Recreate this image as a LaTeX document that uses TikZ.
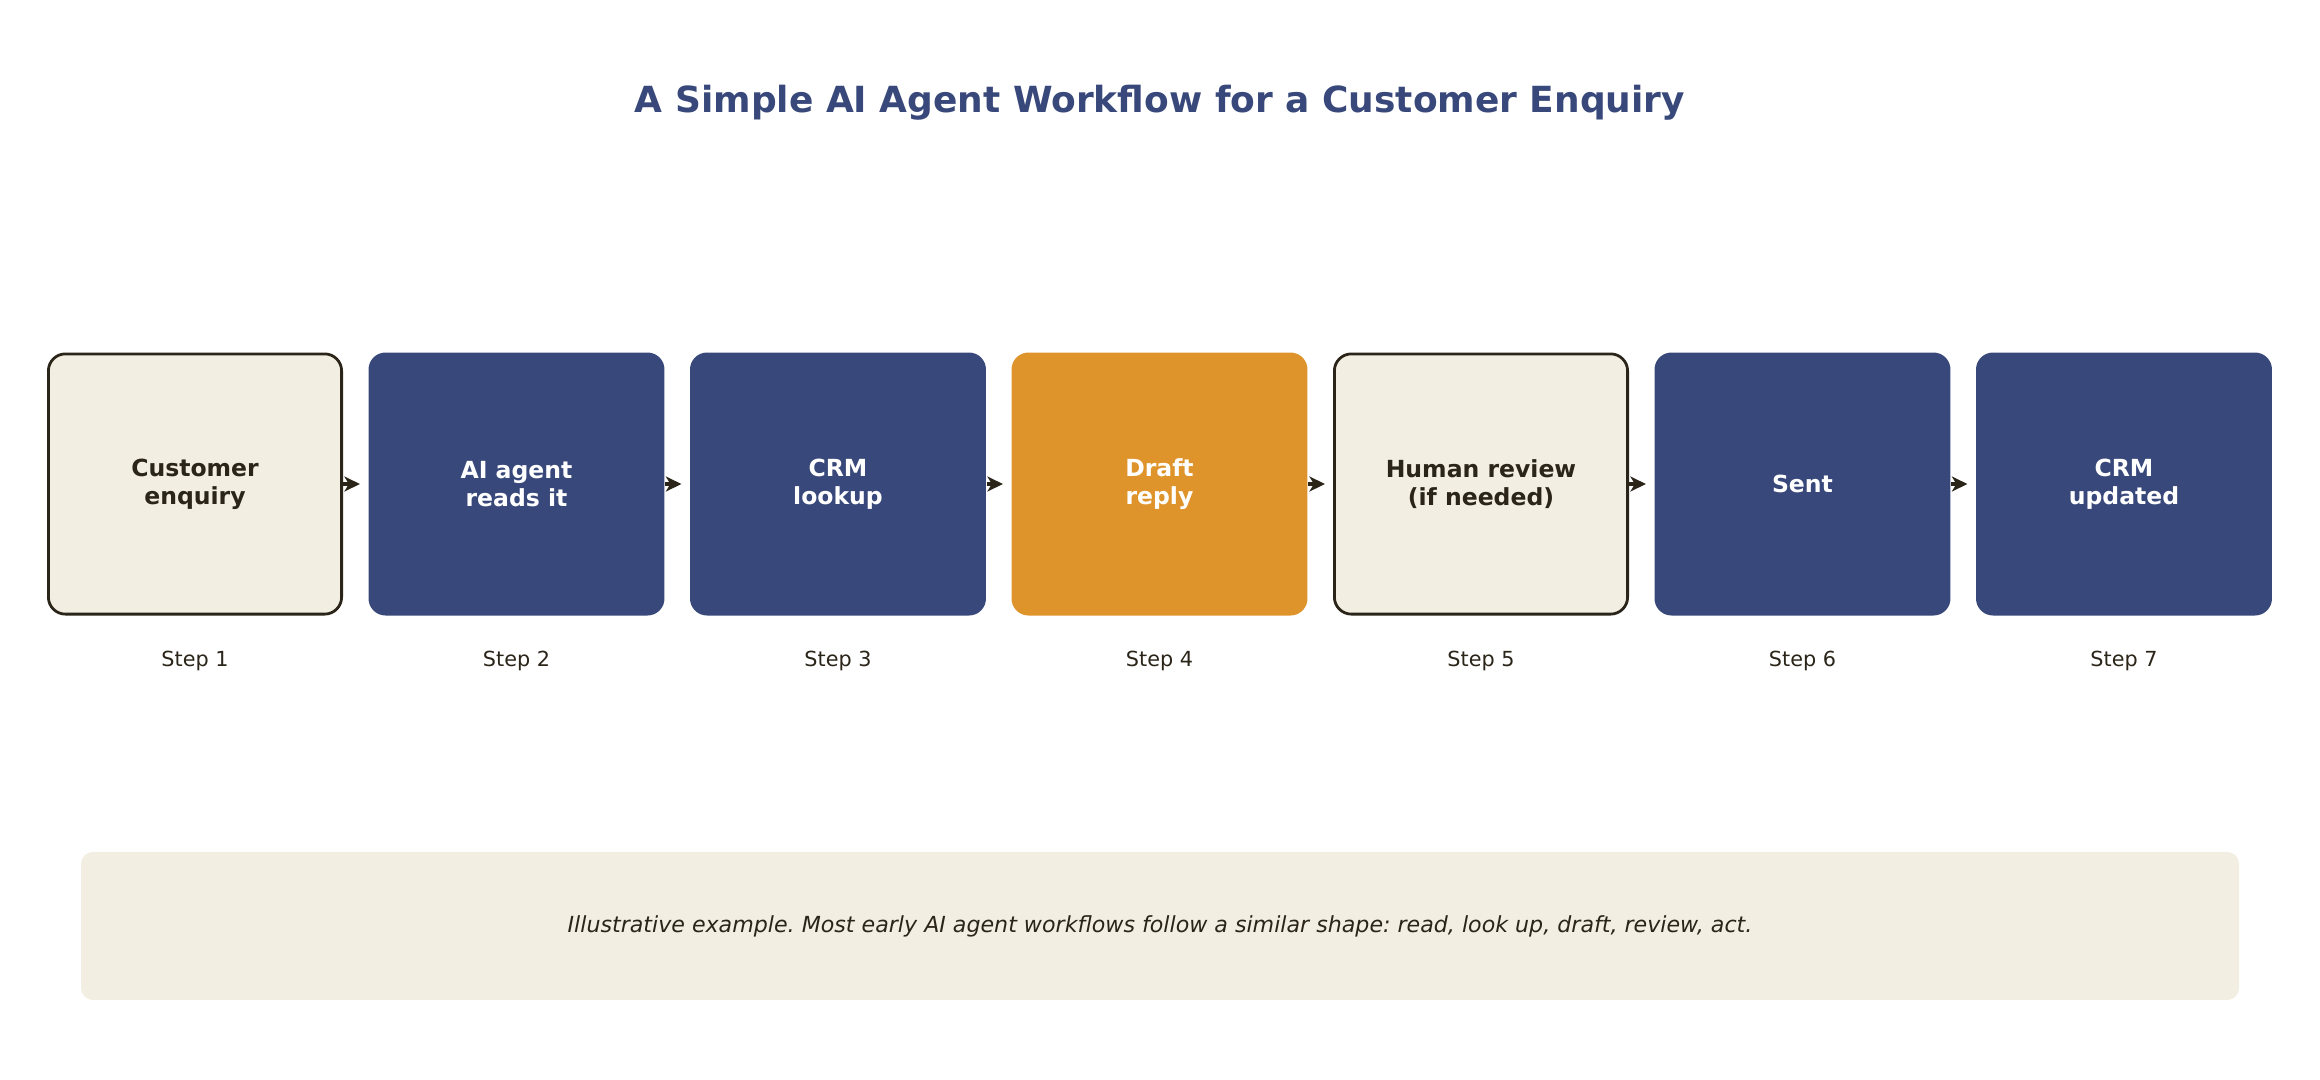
\documentclass[tikz,border=0pt]{standalone}
\usepackage{fontspec}
\setmainfont{DejaVu Sans}
\usetikzlibrary{arrows.meta}
\definecolor{navy}{HTML}{38487A}
\definecolor{amber}{HTML}{DF942B}
\definecolor{cream}{HTML}{F2EEE2}
\definecolor{ink}{HTML}{2A2419}
\frenchspacing

\begin{document}
\begin{tikzpicture}[
    stage/.style={rounded corners=0.216cm, minimum width=3.759cm, minimum height=3.340cm,
      align=center, inner sep=0pt, font=\fontsize{8.5}{10.2}\selectfont\bfseries},
    light/.style={stage, fill=cream, draw=ink, line width=1pt, text=ink,
      minimum width=3.724cm, minimum height=3.305cm},
    dark/.style={stage, fill=navy, text=white},
    warm/.style={stage, fill=amber, text=white},
    steplabel/.style={font=\fontsize{7.5}{9}\selectfont, text=ink},
    flow/.style={-{Stealth[length=5.6pt,width=5.4pt,inset=1.6pt]}, line width=1.4pt,
      draw=ink, shorten >=2.9pt}
  ]
    \def \pitch {4.083}
    \def \rowy {7.569}
    \def \first {2.4765} % centre of the first box
    \useasboundingbox (0,0) rectangle (29.464,13.716);
    \node[font=\fontsize{13}{15.6}\selectfont\bfseries, text=navy] (title) at (14.732,12.41)
      {A Simple AI Agent Workflow for a Customer Enquiry};
    \foreach \i/\kind/\txt in {1/light/{Customer\\enquiry}, 2/dark/{AI agent\\reads it},
      3/dark/{CRM\\lookup}, 4/warm/{Draft\\reply}, 5/light/{Human review\\(if needed)},
      6/dark/{Sent}, 7/dark/{CRM\\updated}}
    {
      \node[\kind] (s\i) at ({\first + (\i-1)*\pitch},\rowy) {\txt};
      \node[steplabel] (l\i) at ({\first + (\i-1)*\pitch},5.32) {Step \i};
    }
    \foreach \i [evaluate=\i as \j using int(\i+1)] in {1,...,6}
      \draw[flow] (s\i.east) -- (s\j.west);
    \node[fill=cream, rounded corners=0.15cm, minimum width=27.406cm, minimum height=1.88cm,
      font=\fontsize{8}{9.6}\selectfont\itshape, text=ink] (note) at (14.732,1.956)
      {Illustrative example. Most early AI agent workflows follow a similar shape: read, look up, draft, review, act.};
\end{tikzpicture}
\end{document}
